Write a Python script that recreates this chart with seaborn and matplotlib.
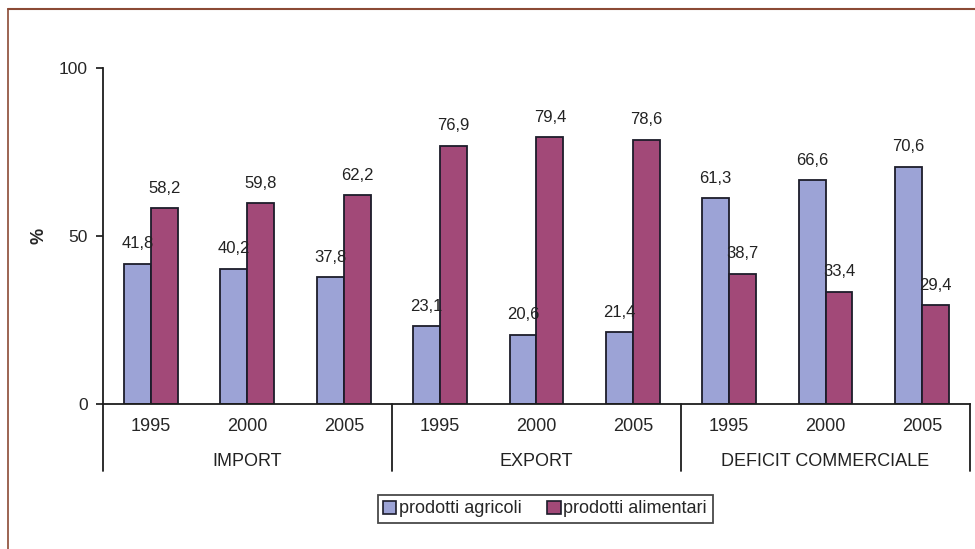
import pandas as pd
import matplotlib.pyplot as plt
import seaborn as sns
from matplotlib.lines import Line2D
from matplotlib.transforms import blended_transform_factory

# chart data
groups = ["IMPORT", "EXPORT", "DEFICIT COMMERCIALE"]
years = ["1995", "2000", "2005"]
series = ["prodotti agricoli", "prodotti alimentari"]
agricoli = [41.8, 40.2, 37.8, 23.1, 20.6, 21.4, 61.3, 66.6, 70.6]
alimentari = [58.2, 59.8, 62.2, 76.9, 79.4, 78.6, 38.7, 33.4, 29.4]
colors = ["#9CA3D6", "#A24978"]

# long table for seaborn
cats = [f"{g} {y}" for g in groups for y in years]
df = pd.DataFrame({
    "cat": cats * 2,
    "value": agricoli + alimentari,
    "serie": [series[0]] * len(cats) + [series[1]] * len(cats),
})

sns.set_style("white")
plt.rcParams["font.family"] = ["Liberation Sans", "DejaVu Sans"]

fig = plt.figure(figsize=(9.75, 5.49), dpi=100)
ax = fig.add_axes([0.1056, 0.2641, 0.8893, 0.612])

sns.barplot(data=df, x="cat", y="value", hue="serie", order=cats,
            hue_order=series, palette=colors, width=0.56,
            edgecolor="#1c1c2a", linewidth=1.3, saturation=1, ax=ax)

# value labels with comma decimals
for cont, vals in zip(ax.containers, [agricoli, alimentari]):
    ax.bar_label(cont, labels=[f"{v:.1f}".replace(".", ",") for v in vals],
                 padding=9, fontsize=12, color="#222222")

ax.set_ylim(0, 100)
ax.set_yticks([0, 50, 100])
ax.set_xlim(-0.5, len(cats) - 0.5)
ax.set_xticks(range(len(cats)))
ax.set_xticklabels(years * len(groups), fontsize=13)
ax.tick_params(axis="x", length=0, pad=10)
ax.tick_params(axis="y", length=5, width=1.3, direction="out", labelsize=12.5, pad=6, left=True)
ax.set_xlabel("")
ax.set_ylabel("%", fontsize=13, fontweight="bold", rotation=90, labelpad=8)
ax.legend_.remove()

for s in ["top", "right"]:
    ax.spines[s].set_visible(False)
for s in ["left", "bottom"]:
    ax.spines[s].set_color("#1c1c1c")
    ax.spines[s].set_linewidth(1.3)

# group separators and group labels below the axis
trans = blended_transform_factory(ax.transData, ax.transAxes)
for i in range(len(groups) + 1):
    xpos = -0.5 + 3 * i
    ax.add_line(Line2D([xpos, xpos], [0, -0.2], transform=trans, color="#1c1c1c",
                       lw=1.3, clip_on=False))
for i, g in enumerate(groups):
    ax.text(3 * i + 1, -0.17, g, transform=trans, ha="center", va="center",
            fontsize=13, color="#222222")

# legend
handles = [plt.Rectangle((0, 0), 1, 1, facecolor=c, edgecolor="#1c1c2a", lw=1.2) for c in colors]
leg = fig.legend(handles, series, loc="center", bbox_to_anchor=(0.559, 0.073), ncol=2,
                 fontsize=13, frameon=True, fancybox=False, handlelength=0.75,
                 handleheight=0.75, handletextpad=0.15, columnspacing=1.4,
                 borderpad=0.3)
leg.get_frame().set_edgecolor("#1c1c1c")
leg.get_frame().set_linewidth(1.3)

# outer frame (partly cropped)
fig.add_artist(Line2D([8 / 975, 1], [1 - 9 / 549, 1 - 9 / 549], transform=fig.transFigure,
                      color="#8B4A35", lw=1.5))
fig.add_artist(Line2D([8 / 975, 8 / 975], [0, 1 - 9 / 549], transform=fig.transFigure,
                      color="#8B4A35", lw=1.2))

fig.savefig("out.png", dpi=100)
